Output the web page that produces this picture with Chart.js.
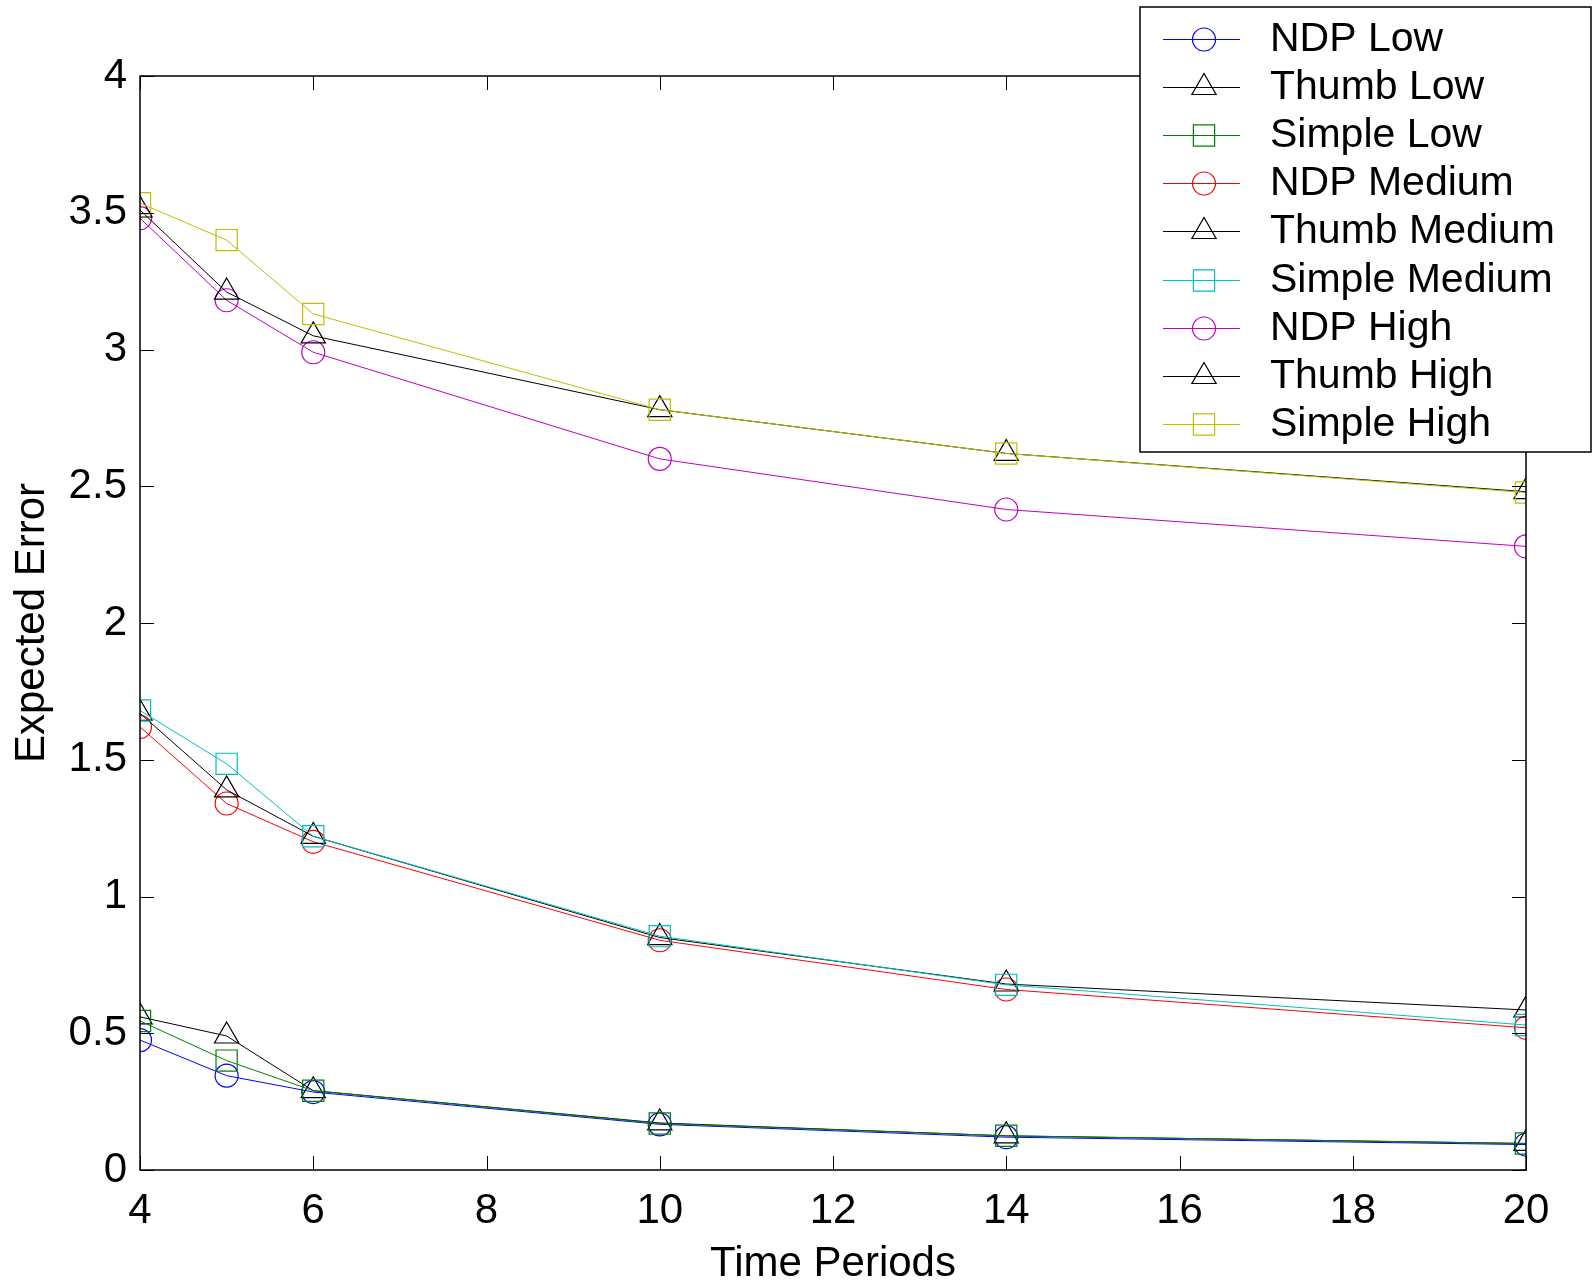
<!DOCTYPE html>
<html>
<head>
<meta charset="utf-8">
<script src="https://cdn.jsdelivr.net/npm/chart.js@4.4.1/dist/chart.umd.min.js"></script>
<style>
	html, body { margin: 0; padding: 0; background: #fff; }
	#wrap { width: 1596px; height: 1280px; }
</style>
</head>
<body>
<div id="wrap"><canvas id="chart"></canvas></div>
<script>
// time periods on x
var periods = [4, 5, 6, 10, 14, 20];

// expected error per method and noise level
var ndpLow = [0.475, 0.345, 0.285, 0.167, 0.12, 0.093];
var thumbLow = [0.56, 0.49, 0.29, 0.172, 0.125, 0.097];
var simpleLow = [0.545, 0.40, 0.29, 0.17, 0.125, 0.097];
var ndpMedium = [1.62, 1.34, 1.20, 0.84, 0.66, 0.52];
var thumbMedium = [1.67, 1.39, 1.22, 0.85, 0.68, 0.585];
var simpleMedium = [1.68, 1.485, 1.22, 0.855, 0.677, 0.53];
var ndpHigh = [3.48, 3.18, 2.99, 2.60, 2.415, 2.28];
var thumbHigh = [3.51, 3.21, 3.05, 2.78, 2.62, 2.48];
var simpleHigh = [3.535, 3.40, 3.13, 2.78, 2.62, 2.477];

var xTicks = [4, 6, 8, 10, 12, 14, 16, 18, 20];
var yTicks = [0, 0.5, 1, 1.5, 2, 2.5, 3, 3.5, 4];

var FONT = 'Arial, "Liberation Sans", sans-serif';
var markerSize = { circle: 11.5, triangle: 14, rect: 15 };

var series = [
	['NDP Low', ndpLow, '#0000ff', 'circle'],
	['Thumb Low', thumbLow, '#000000', 'triangle'],
	['Simple Low', simpleLow, '#008000', 'rect'],
	['NDP Medium', ndpMedium, '#ff0000', 'circle'],
	['Thumb Medium', thumbMedium, '#000000', 'triangle'],
	['Simple Medium', simpleMedium, '#00bfbf', 'rect'],
	['NDP High', ndpHigh, '#bf00bf', 'circle'],
	['Thumb High', thumbHigh, '#000000', 'triangle'],
	['Simple High', simpleHigh, '#bfbf00', 'rect']
];

var datasets = series.map(function (s, i) {
	return {
		label: s[0],
		data: periods.map(function (p, j) { return { x: p, y: s[1][j] }; }),
		borderColor: s[2],
		borderWidth: 1,
		pointStyle: s[3],
		pointRadius: markerSize[s[3]],
		pointBorderColor: s[2],
		pointBorderWidth: 1.2,
		pointBackgroundColor: 'rgba(0,0,0,0)',
		tension: 0,
		order: -i
	};
});

// matlab style box with inward ticks on all four sides
var axesBox = {
	id: 'axesBox',
	afterDatasetsDraw: function (chart) {
		var ctx = chart.ctx, a = chart.chartArea;
		var xs = chart.scales.x, ys = chart.scales.y;
		var tl = 14;
		ctx.save();
		ctx.strokeStyle = '#000';
		ctx.lineWidth = 1.5;
		ctx.strokeRect(a.left, a.top, a.right - a.left, a.bottom - a.top);
		ctx.lineWidth = 1;
		ctx.beginPath();
		xTicks.forEach(function (t) {
			var px = Math.round(xs.getPixelForValue(t)) + 0.5;
			ctx.moveTo(px, a.bottom); ctx.lineTo(px, a.bottom - tl);
			ctx.moveTo(px, a.top); ctx.lineTo(px, a.top + tl);
		});
		yTicks.forEach(function (t) {
			var py = Math.round(ys.getPixelForValue(t)) + 0.5;
			ctx.moveTo(a.left, py); ctx.lineTo(a.left + tl, py);
			ctx.moveTo(a.right, py); ctx.lineTo(a.right - tl, py);
		});
		ctx.stroke();
		ctx.restore();
	}
};

// boxed legend in the top right corner, drawn over the axes
var boxLegend = {
	id: 'boxLegend',
	afterDraw: function (chart) {
		var ctx = chart.ctx;
		var bx = 1140, by = 7, bw = 451, bh = 445;
		var row0 = 38.5, rowH = 48.2;
		ctx.save();
		ctx.fillStyle = '#fff';
		ctx.fillRect(bx, by, bw, bh);
		ctx.strokeStyle = '#000';
		ctx.lineWidth = 1.5;
		ctx.strokeRect(bx, by, bw, bh);
		chart.data.datasets.forEach(function (ds, i) {
			var y = Math.round(row0 + i * rowH) + 0.5;
			ctx.strokeStyle = ds.borderColor;
			ctx.lineWidth = 1;
			ctx.beginPath();
			ctx.moveTo(1163, y); ctx.lineTo(1240, y);
			ctx.stroke();
			ctx.fillStyle = 'rgba(0,0,0,0)';
			ctx.lineWidth = 1.2;
			Chart.helpers.drawPoint(ctx, { pointStyle: ds.pointStyle, radius: ds.pointRadius, rotation: 0, borderWidth: 1.2 }, 1204, y);
			ctx.fillStyle = '#000';
			ctx.font = '41px ' + FONT;
			ctx.textAlign = 'left';
			ctx.textBaseline = 'middle';
			ctx.fillText(ds.label, 1270, y);
		});
		ctx.restore();
	}
};

var ctx = document.getElementById('chart').getContext('2d');
new Chart(ctx, {
	type: 'line',
	data: { datasets: datasets },
	options: {
		responsive: true,
		maintainAspectRatio: false,
		animation: false,
		layout: { padding: { top: 76, right: 70, left: 0, bottom: 0 } },
		plugins: {
			legend: { display: false },
			tooltip: { enabled: false }
		},
		scales: {
			x: {
				type: 'linear',
				min: 4,
				max: 20,
				grid: { display: false, drawTicks: false },
				border: { display: false },
				ticks: {
					stepSize: 2,
					padding: 16,
					color: '#000',
					font: { family: FONT, size: 42 }
				},
				title: {
					display: true,
					text: 'Time Periods',
					color: '#000',
					font: { family: FONT, size: 42, lineHeight: 1.2 },
					padding: { top: 0, bottom: -9.5 }
				},
				afterFit: function (scale) { scale.height = 110; }
			},
			y: {
				type: 'linear',
				min: 0,
				max: 4,
				grid: { display: false, drawTicks: false },
				border: { display: false },
				ticks: {
					stepSize: 0.5,
					padding: 13,
					color: '#000',
					font: { family: FONT, size: 42 },
					callback: function (v) { return String(+v.toFixed(1)); }
				},
				title: {
					display: true,
					text: 'Expected Error',
					color: '#000',
					font: { family: FONT, size: 42, lineHeight: 1.2 },
					padding: { top: 7, bottom: 0 }
				},
				afterFit: function (scale) { scale.width = 140; }
			}
		}
	},
	plugins: [axesBox, boxLegend]
});
</script>
</body>
</html>
